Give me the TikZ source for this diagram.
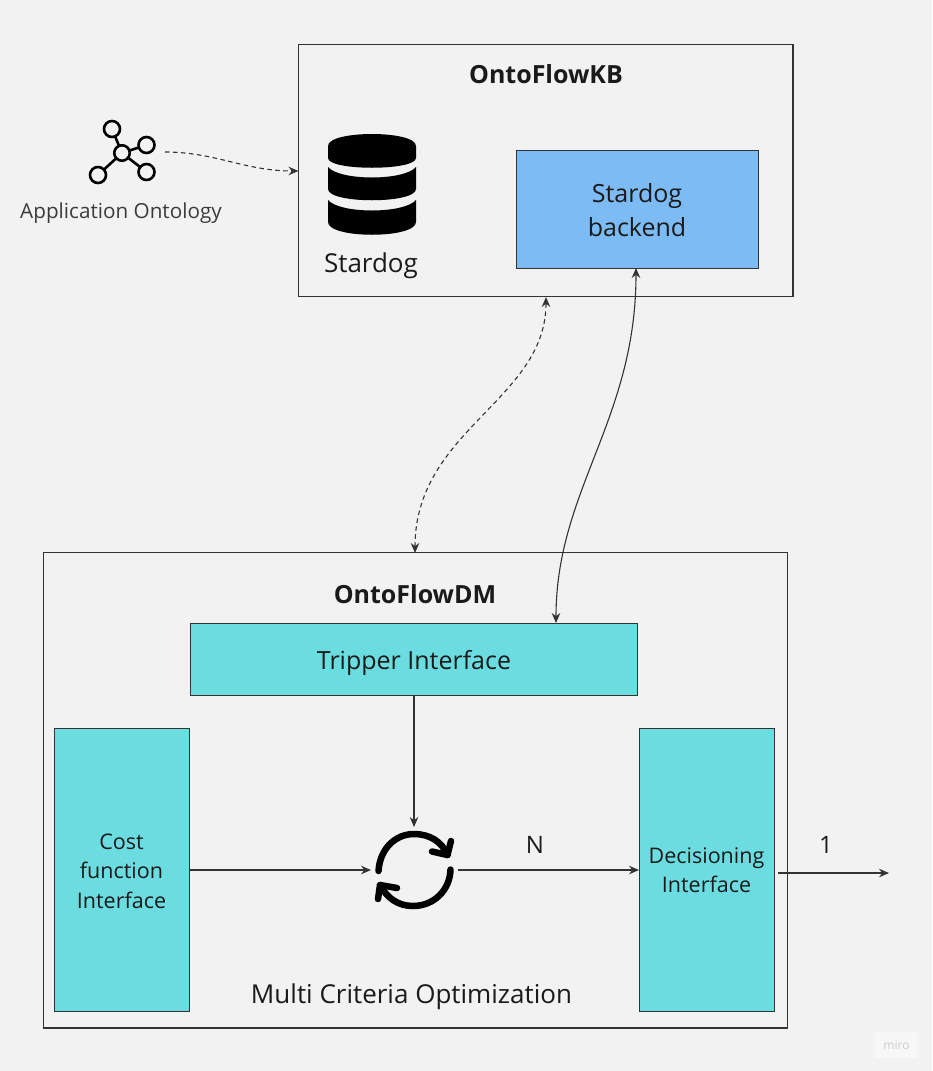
\documentclass[tikz,border=0pt]{standalone}
\usepackage{fontspec}
\setmainfont{Open Sans}
\usetikzlibrary{arrows.meta}
\definecolor{bg}{HTML}{F2F2F2}
\definecolor{ink}{HTML}{1A1A1A}
\definecolor{linec}{HTML}{333333}
\definecolor{bluebox}{HTML}{7CBBF3}
\definecolor{tealbox}{HTML}{6BDCE0}
\tikzset{
  frame/.style={draw=linec,line width=1.1pt,fill=bg,inner sep=0pt,outer sep=0pt},
  tealnode/.style={draw=linec,line width=1pt,fill=tealbox,inner sep=0pt,outer sep=0pt,text=ink,align=center},
  bluenode/.style={draw=linec,line width=1pt,fill=bluebox,inner sep=0pt,outer sep=0pt,text=ink,align=center},
  conn/.style={draw=linec,line width=1.1pt,-{Stealth[length=10pt,width=8.5pt]}},
  dconn/.style={conn,dash pattern=on 4.5pt off 3.5pt},
  both/.style={{Stealth[length=10pt,width=8.5pt]}-{Stealth[length=10pt,width=8.5pt]}},
  onto/.style={circle,draw=black,line width=2.6pt,fill=bg,inner sep=0pt,outer sep=0pt},
  ontoline/.style={draw=black,line width=2.6pt},
  cyc/.style={draw=black,line width=6.5pt,line cap=round,line join=round}
}
\begin{document}
\begin{tikzpicture}[x=1pt,y=-1pt]
\useasboundingbox (0,0) rectangle (932,1071);
\fill[bg] (0,0) rectangle (932,1071);

% frames
\node[frame,minimum width=494.5pt,minimum height=252pt,anchor=north west] (kb) at (298.5,44.5) {};
\node[frame,minimum width=744pt,minimum height=475.5pt,anchor=north west] (dm) at (43.5,552.5) {};

% inner boxes
\node[bluenode,minimum width=242pt,minimum height=118pt,anchor=north west] (backend) at (516.5,150) {};
\node[inner sep=0pt,text=ink,align=center,font=\fontsize{25}{34}\selectfont] (backendt) at (637,210) {Stardog\\backend};
\node[tealnode,minimum width=447pt,minimum height=72pt,anchor=north west] (tripper) at (190.5,623) {};
\node[inner sep=0pt,text=ink,font=\fontsize{25}{25}\selectfont] (trippert) at (414,663) {Tripper Interface};
\node[tealnode,minimum width=135pt,minimum height=283pt,anchor=north west] (cost) at (54,728) {};
\node[inner sep=0pt,text=ink,align=center,font=\fontsize{21.5}{29.5}\selectfont] (costt) at (121.5,871) {Cost\\function\\Interface};
\node[tealnode,minimum width=135pt,minimum height=283pt,anchor=north west] (dec) at (639,728) {};
\node[inner sep=0pt,text=ink,align=center,font=\fontsize{21.5}{29.5}\selectfont] (dect) at (706.5,870) {Decisioning\\Interface};

% titles and labels
\node[inner sep=0pt,text=ink,font=\fontsize{25}{25}\selectfont\bfseries] (kbt) at (546,74) {OntoFlowKB};
\node[inner sep=0pt,text=ink,font=\fontsize{25}{25}\selectfont\bfseries] (dmt) at (415,594) {OntoFlowDM};
\node[inner sep=0pt,text=ink!85!white,font=\fontsize{20.7}{20.7}\selectfont] (app) at (121,213.5) {Application Ontology};
\node[inner sep=0pt,text=ink,font=\fontsize{26}{26}\selectfont] (sd) at (371,265.5) {Stardog};
\node[inner sep=0pt,text=ink,font=\fontsize{26}{26}\selectfont] (mco) at (411.5,996.5) {Multi Criteria Optimization};
\node[inner sep=0pt,text=ink,font=\fontsize{24}{24}\selectfont] (nlab) at (535,845) {N};
\node[inner sep=0pt,text=ink,font=\fontsize{24}{24}\selectfont] (onelab) at (826,845) {1};

% database icon
\fill[black] (328,146) .. controls (328,130) and (416,130) .. (416,146) -- (416,158) .. controls (416,171) and (328,171) .. (328,158) -- cycle;
\fill[black] (328,167) .. controls (340,181) and (404,181) .. (416,167) -- (416,189) .. controls (416,204) and (328,204) .. (328,189) -- cycle;
\fill[black] (328,200) .. controls (340,214) and (404,214) .. (416,200) -- (416,222) .. controls (416,239) and (328,239) .. (328,222) -- cycle;

% ontology icon
\node[onto,minimum size=15.5pt] (oc) at (122,153) {};
\node[onto,minimum size=16pt] (o1) at (112,129) {};
\node[onto,minimum size=16pt] (o2) at (146.5,145) {};
\node[onto,minimum size=16pt] (o3) at (98,175) {};
\node[onto,minimum size=16pt] (o4) at (146.5,172) {};
\draw[ontoline] (oc) -- (o1);
\draw[ontoline] (oc) -- (o2);
\draw[ontoline] (oc) -- (o3);
\draw[ontoline] (oc) -- (o4);

% cycle icon
\coordinate (cyc) at (414,870);
\coordinate (cycW) at (371,870);
\coordinate (cycE) at (458,870);
\coordinate (cycN) at (414,827);
\draw[cyc] (378.5,871) .. controls (380,848) and (396,834) .. (414,834) .. controls (430,834) and (442,842) .. (447.5,855);
\draw[cyc] (451,841) -- (447.5,855) -- (432,851.5);
\draw[cyc] (450.5,869.5) .. controls (450,890) and (434,906) .. (413,906) .. controls (398,906) and (387,898) .. (380,885);
\draw[cyc] (378,899) -- (380,885) -- (397,888);

% connector end points
\coordinate (aStart) at (165,152);
\coordinate (kbW) at (kb.west |- 0,171);
\coordinate (kbS) at (546,297);
\coordinate (dmN) at (415,553);
\coordinate (backS) at (636,268);
\coordinate (tripN) at (556,623);
\coordinate (decOut) at (889,873);
\coordinate (decE) at (778,873);

% connectors
\draw[dconn] (aStart) .. controls (215,152) and (245,171) .. (kbW);
\draw[dconn,both] (kbS) .. controls (546,400) and (415,430) .. (dmN);
\draw[conn,both] (backS) .. controls (636,420) and (556,490) .. (tripN);
\draw[conn] (tripper.south) -- (cycN);
\draw[conn] (cost.east |- cycW) -- (cycW);
\draw[conn] (cycE) -- (dec.west |- cycE);
\draw[conn] (decE) -- (decOut);

% watermark
\fill[white!40!bg] (874,1032) rectangle (918,1058);
\node[inner sep=0pt,text=black!20,font=\fontsize{12}{12}\selectfont] (miro) at (896.5,1045) {miro};
\end{tikzpicture}
\end{document}
